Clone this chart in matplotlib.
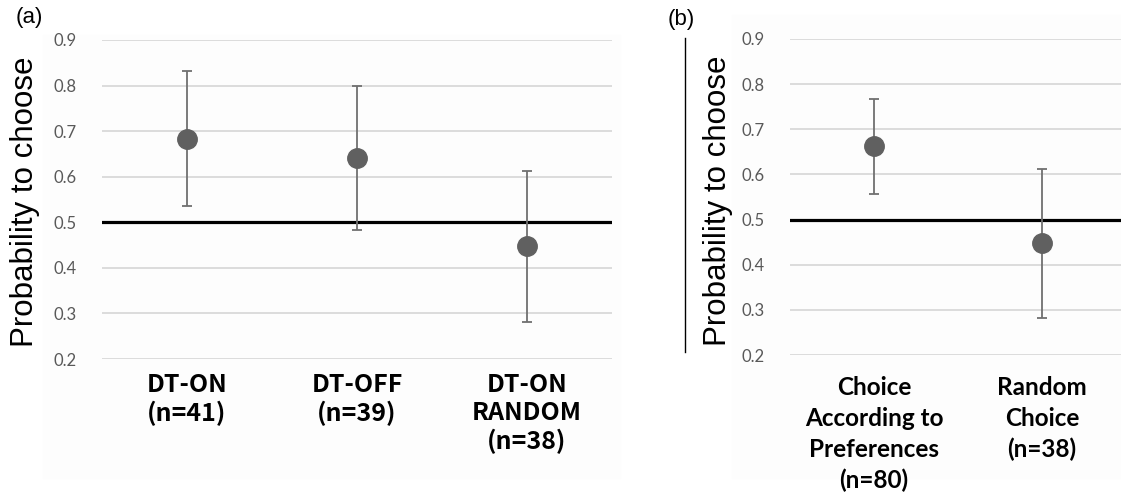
#!/usr/bin/env python
import matplotlib
matplotlib.use('Agg')
import matplotlib.pyplot as plt
from matplotlib.lines import Line2D
import numpy as np

# panel (a)
cats_a = ['DT-ON\n(n=41)', 'DT-OFF\n(n=39)', 'DT-ON\nRANDOM\n(n=38)']
mean_a = [0.683, 0.642, 0.448]
low_a = [0.536, 0.484, 0.282]
high_a = [0.831, 0.799, 0.613]

# panel (b)
cats_b = ['Choice\nAccording to\nPreferences\n(n=80)', 'Random\nChoice\n(n=38)']
mean_b = [0.662, 0.447]
low_b = [0.557, 0.282]
high_b = [0.768, 0.613]

yticks = [0.2, 0.3, 0.4, 0.5, 0.6, 0.7, 0.8, 0.9]
chance = 0.5

W, H = 1121, 494
fig = plt.figure(figsize=(W / 100, H / 100), dpi=100)


def draw_panel(ax, cats, mean, low, high, label_font, label_size, spacing, pad):
    x = np.arange(len(cats))
    mean = np.array(mean)
    err = [mean - np.array(low), np.array(high) - mean]
    ax.set_ylim(0.2, 0.9)
    ax.set_yticks(yticks)
    ax.set_yticklabels(['%.1f' % t for t in yticks])
    for t in yticks:
        ax.axhline(t, color='#d9d9d9', lw=1.3, zorder=0)
    ax.axhline(chance, color='black', lw=2.3, zorder=1)
    ax.errorbar(x, mean, yerr=err, fmt='o', color='#606060', ecolor='#707070',
                elinewidth=1.3, capsize=3.5, capthick=1.3, markersize=14,
                zorder=3, clip_on=False)
    ax.set_xticks(x)
    ax.set_xticklabels(cats, fontsize=label_size, fontweight='bold', family=label_font,
                       linespacing=spacing, va='top')
    ax.tick_params(axis='x', length=0, pad=pad)
    ax.tick_params(axis='y', length=0, pad=18, labelsize=12, labelcolor='#595959')
    for s in ax.spines.values():
        s.set_visible(False)
    ax.set_facecolor('none')
    for lab in ax.get_yticklabels():
        lab.set_family('Lato')


# faint chart backgrounds
fig.patches.append(plt.Rectangle((43 / W, 16 / H), 577 / W, 1 - 51 / H, transform=fig.transFigure,
                                 color='#fdfdfd', zorder=-5))
fig.patches.append(plt.Rectangle((732 / W, 16 / H), 389 / W, 1 - 31 / H, transform=fig.transFigure,
                                 color='#fdfdfd', zorder=-5))

ax_a = fig.add_axes([102 / W, 1 - 359 / H, 510 / W, 319 / H])
ax_a.set_xlim(-0.5, 2.5)
draw_panel(ax_a, cats_a, mean_a, low_a, high_a, ['Noto Sans CJK SC', 'DejaVu Sans'], 18, 1.2, 10)

ax_b = fig.add_axes([790 / W, 1 - 355 / H, 336 / W, 316 / H])
ax_b.set_xlim(-0.5, 1.5)
draw_panel(ax_b, cats_b, mean_b, low_b, high_b, ['Lato'], 17.5, 1.42, 15)

fig.text(25 / W, 1 - 202 / H, 'Probability to choose', rotation=90, fontsize=22.5,
         family='Liberation Sans', ha='center', va='center')
fig.text(718 / W, 1 - 201 / H, 'Probability to choose', rotation=90, fontsize=22.5,
         family='Liberation Sans', ha='center', va='center')
fig.text(29 / W, 1 - 18 / H, '(a)', fontsize=16, family='Liberation Sans', ha='center', va='center')
fig.text(681 / W, 1 - 20 / H, '(b)', fontsize=16, family='Liberation Sans', ha='center', va='center')

fig.add_artist(Line2D([685 / W, 685 / W], [1 - 38 / H, 1 - 352 / H], color='black', lw=1.0))

plt.savefig('out.png', dpi=100)
plt.close()
